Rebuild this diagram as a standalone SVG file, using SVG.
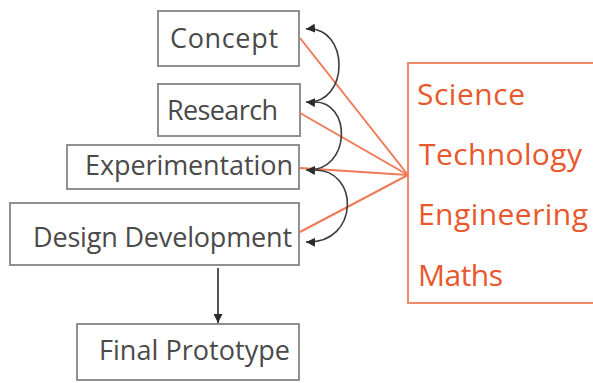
<svg xmlns="http://www.w3.org/2000/svg" width="593" height="383" viewBox="0 0 593 383">
<defs>
<style>
.box{fill:#ffffff;stroke:#909090;stroke-width:2}
.lbl{font-family:"Open Sans","Noto Sans","Liberation Sans",sans-serif;font-size:27px;font-weight:500;fill:#4a4a4a}
.stem{font-family:"Open Sans","Noto Sans","Liberation Sans",sans-serif;font-size:30px;font-weight:500;fill:#e8582c}
.obox{fill:#ffffff;stroke:#f08a6c;stroke-width:2}
.oline{fill:none;stroke:#ef7a58;stroke-width:2}
.curve{fill:none;stroke:#3c3c3c;stroke-width:1.6}
</style>
<marker id="ah" viewBox="0 0 10 10" refX="10" refY="5" markerWidth="9" markerHeight="9" markerUnits="userSpaceOnUse" orient="auto-start-reverse">
<path d="M0,0 L10,5 L0,10 z" fill="#2a2a2a"/>
</marker>
</defs>
<rect width="593" height="383" fill="#ffffff"/>

<g id="stem-box">
<rect class="obox" x="408" y="63" width="200" height="240"/>
<text class="stem" x="417" y="105" textLength="108">Science</text>
<text class="stem" x="419" y="165" textLength="163">Technology</text>
<text class="stem" x="418" y="225" textLength="170">Engineering</text>
<text class="stem" x="418" y="286" textLength="85">Maths</text>
</g>

<g id="concept">
<rect class="box" x="158" y="11" width="141" height="55"/>
<text class="lbl" x="170" y="48" textLength="108">Concept</text>
</g>
<g id="research">
<rect class="box" x="158" y="84" width="142" height="52"/>
<text class="lbl" x="167" y="120" textLength="111">Research</text>
</g>
<g id="experimentation">
<rect class="box" x="67" y="145" width="232" height="44"/>
<text class="lbl" x="85" y="175" textLength="208">Experimentation</text>
</g>
<g id="design-development">
<rect class="box" x="10" y="203" width="289" height="62"/>
<text class="lbl" x="33" y="247" textLength="259">Design Development</text>
</g>
<g id="final-prototype">
<rect class="box" x="77" y="324" width="222" height="56"/>
<text class="lbl" x="99" y="360" textLength="191">Final Prototype</text>
</g>

<g id="connectors">
<line class="oline" x1="300" y1="38" x2="408" y2="175"/>
<line class="oline" x1="300" y1="113" x2="408" y2="175"/>
<line class="oline" x1="300" y1="168" x2="408" y2="175"/>
<line class="oline" x1="300" y1="232" x2="408" y2="175"/>
<path class="curve" d="M306,29 C350,25 350,105 306,102" marker-start="url(#ah)" marker-end="url(#ah)"/>
<path class="curve" d="M313,102 C352,100 352,172 306,170" marker-end="url(#ah)"/>
<path class="curve" d="M313,170 C360,168 360,244 306,242" marker-end="url(#ah)"/>
<line x1="218" y1="268" x2="218" y2="323" stroke="#2a2a2a" stroke-width="1.6" marker-end="url(#ah)"/>
</g>
</svg>
